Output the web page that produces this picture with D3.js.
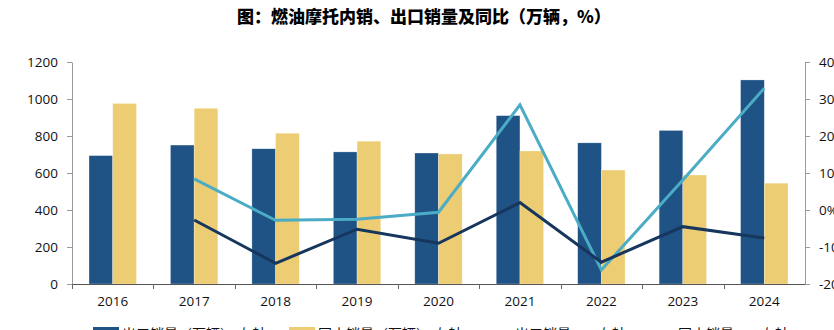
<!DOCTYPE html>
<html>
<head>
<meta charset="utf-8">
<script src="https://cdn.jsdelivr.net/npm/d3@7/dist/d3.min.js"></script>
<style>
html,body{margin:0;padding:0;background:#fff;overflow:hidden;}
svg{display:block;}
</style>
</head>
<body>
<svg id="c" width="834" height="330"></svg>
<script>
const years = ["2016","2017","2018","2019","2020","2021","2022","2023","2024"];
const exportSales = [694, 751, 731, 714, 708, 910, 763, 830, 1103];
const domesticSales = [976, 950, 815, 772, 703, 719, 616, 589, 545];
const exportYoy = [null, 8.4, -2.8, -2.5, -0.6, 28.4, -16.2, 8.1, 32.9];
const domesticYoy = [null, -2.7, -14.4, -5.2, -9.0, 2.0, -14.1, -4.5, -7.6];
const leftTicks = [0, 200, 400, 600, 800, 1000, 1200];
const rightTicks = [-20, -10, 0, 10, 20, 30, 40];
const seriesNames = ["出口销量（万辆）-左轴", "国内销量（万辆）-左轴", "出口销量yoy-右轴", "国内销量yoy-右轴"];
const title = "图：燃油摩托内销、出口销量及同比（万辆，%）";

const colors = {exp:"#1F5285", dom:"#EDCD74", expY:"#4BACC6", domY:"#17365D"};
const font = "'Open Sans','Noto Sans CJK SC',sans-serif";
const L = 72, R = 805, T = 62, B = 284;

const svg = d3.select("#c");

const x0 = d3.scaleBand().domain(years).range([L, R]).paddingInner(0.418).paddingOuter(0.209);
const x1 = d3.scaleBand().domain(["exp","dom"]).range([0, x0.bandwidth()]);
const yL = d3.scaleLinear().domain([0, 1200]).range([B, T]);
const yR = d3.scaleLinear().domain([-20, 40]).range([B, T]);

// title
svg.append("text").attr("x", 424).attr("y", 23).attr("text-anchor","middle")
  .attr("font-family","'Noto Sans CJK SC',sans-serif").attr("font-weight",900)
  .attr("font-size", 17).attr("fill","#000").text(title);

// bars
const g = svg.append("g");
years.forEach((yr, i) => {
  const gx = x0(yr);
  g.append("rect").attr("x", gx + x1("exp")).attr("width", x1.bandwidth())
    .attr("y", yL(exportSales[i])).attr("height", yL(0) - yL(exportSales[i]))
    .attr("fill", colors.exp).attr("stroke","#fff").attr("stroke-opacity",0.45).attr("stroke-width",0.6);
  g.append("rect").attr("x", gx + x1("dom")).attr("width", x1.bandwidth())
    .attr("y", yL(domesticSales[i])).attr("height", yL(0) - yL(domesticSales[i]))
    .attr("fill", colors.dom).attr("stroke","#fff").attr("stroke-opacity",0.45).attr("stroke-width",0.6);
});

// lines
const cx = yr => x0(yr) + x0.bandwidth()/2;
const line = d3.line().defined(d => d[1] != null).x(d => cx(d[0])).y(d => yR(d[1]));
svg.append("path").datum(years.map((y,i)=>[y, exportYoy[i]]))
  .attr("d", line).attr("fill","none").attr("stroke", colors.expY).attr("stroke-width", 3).attr("stroke-linejoin","miter");
svg.append("path").datum(years.map((y,i)=>[y, domesticYoy[i]]))
  .attr("d", line).attr("fill","none").attr("stroke", colors.domY).attr("stroke-width", 3).attr("stroke-linejoin","miter");

// left axis
const axL = svg.append("g").attr("transform", `translate(${L},0)`)
  .call(d3.axisLeft(yL).tickValues(leftTicks).tickSize(5).tickPadding(9).tickSizeOuter(0).tickFormat(d3.format("d")));
axL.select(".domain").attr("stroke","#9a9a9a");
axL.selectAll(".tick line").attr("stroke","#9a9a9a");
axL.selectAll("text").attr("font-family", font).attr("font-size", 13.5).attr("fill","#111");

// right axis
const axR = svg.append("g").attr("transform", `translate(${R},0)`)
  .call(d3.axisRight(yR).tickValues(rightTicks).tickSize(5).tickPadding(9).tickSizeOuter(0).tickFormat(d => d + "%"));
axR.select(".domain").attr("stroke","#9a9a9a");
axR.selectAll(".tick line").attr("stroke","#9a9a9a");
axR.selectAll("text").attr("font-family", font).attr("font-size", 13.5).attr("fill","#111");

// x axis
const axX = svg.append("g").attr("transform", `translate(0,${B})`)
  .call(d3.axisBottom(x0).tickSize(0).tickPadding(12).tickSizeOuter(0));
axX.select(".domain").attr("stroke","#555").attr("d", `M${L},0.5H${R}`);
axX.selectAll("text").attr("font-family", font).attr("font-size", 13.5).attr("fill","#111");
// boundary ticks
const step = x0.step();
d3.range(years.length).forEach(i => {
  const bx = Math.round(L + i * step) + 0.5;
  svg.append("line").attr("x1", bx).attr("x2", bx).attr("y1", B).attr("y2", B + 5).attr("stroke","#666");
});

// legend (partially cut off by viewport, like reference)
const lg = svg.append("g").attr("font-family", font).attr("font-size", 14).attr("fill","#111");
const items = [
  {x:93, type:"rect", color:colors.exp, tx:122},
  {x:289, type:"rect", color:colors.dom, tx:318},
  {x:484, type:"line", color:colors.expY, tx:515},
  {x:647, type:"line", color:colors.domY, tx:678}
];
items.forEach((it, i) => {
  if (it.type === "rect") {
    lg.append("rect").attr("x", it.x).attr("y", 327).attr("width", 26).attr("height", 14).attr("fill", it.color);
  } else {
    lg.append("line").attr("x1", it.x).attr("x2", it.x + 26).attr("y1", 334).attr("y2", 334)
      .attr("stroke", it.color).attr("stroke-width", 3);
  }
  lg.append("text").attr("x", it.tx).attr("y", 339).text(seriesNames[i]);
});
</script>
</body>
</html>
